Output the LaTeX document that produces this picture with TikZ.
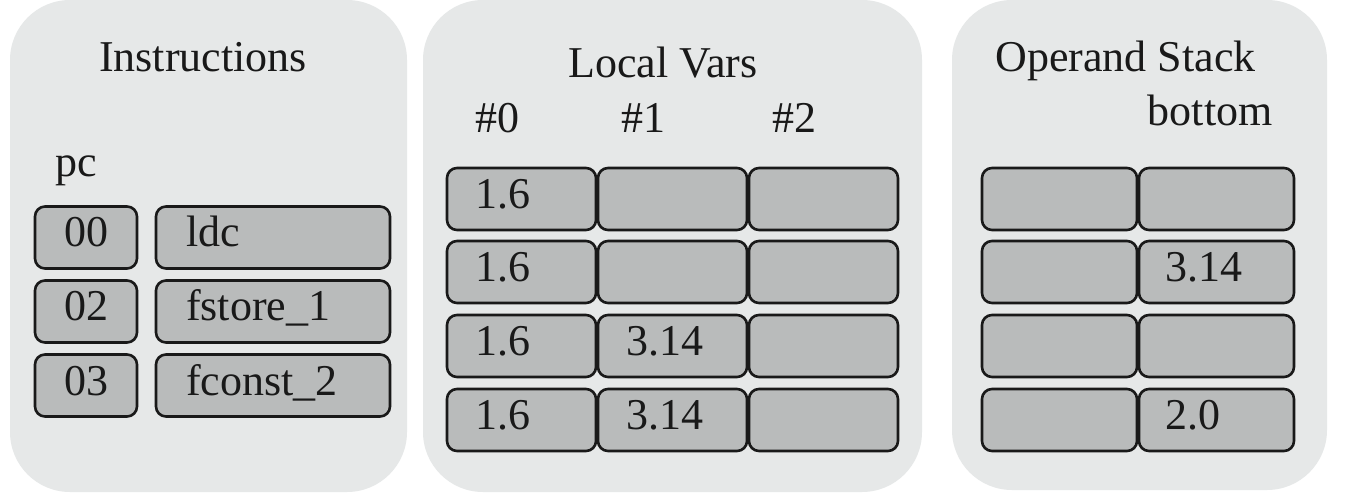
\documentclass[tikz,border=0pt]{standalone}
\usepackage{fontspec}
\setmainfont{Liberation Serif}
\definecolor{panelgray}{RGB}{230,232,232}
\definecolor{cellgray}{RGB}{185,187,187}
\definecolor{ink}{RGB}{25,25,25}
\begin{document}
\begin{tikzpicture}[x=0.5pt,y=-0.5pt,
  every node/.style={font=\fontsize{22pt}{26pt}\selectfont, text=ink},
  panel/.style={fill=panelgray, draw=none, rounded corners=30pt, inner sep=0pt},
  cell/.style={fill=cellgray, draw=black!90, line width=1.3pt, rounded corners=5pt,
    inner sep=0pt, minimum height=31pt, text height=1.05em, text depth=0.1em},
  lcell/.style={cell, inner xsep=14pt, align=left},
  title/.style={inner sep=0pt, anchor=base}
]
\fill[white] (0,0) rectangle (1345,502);
\useasboundingbox (0,0) rectangle (1345,502);

% panels
\node[panel, minimum width=198.5pt, minimum height=246pt] (p1) at (208.5,246) {};
\node[panel, minimum width=249.5pt, minimum height=246pt] (p2) at (672.5,246) {};
\node[panel, minimum width=187.5pt, minimum height=245pt] (p3) at (1139.5,245) {};

% Instructions
\node[title] (tinstr) at (203,72) {Instructions};
\node[title, anchor=base west] (tpc) at (55,177) {pc};
\node[cell, minimum width=51pt] (n00) at (86,237.5) {00};
\node[cell, minimum width=51pt] (n02) at (86,311.5) {02};
\node[cell, minimum width=51pt] (n03) at (86,385.5) {03};
\node[lcell, inner xsep=15pt, text width=87pt] (i00) at (273,237.5) {ldc};
\node[lcell, inner xsep=15pt, text width=87pt] (i02) at (273,311.5) {fstore\_1};
\node[lcell, inner xsep=15pt, text width=87pt] (i03) at (273,385.5) {fconst\_2};

% Local Vars
\node[title] (tlv) at (663,78) {Local Vars};
\node[title] (h0) at (497,133) {\#0};
\node[title] (h1) at (643,133) {\#1};
\node[title] (h2) at (794,133) {\#2};
\tikzset{lv/.style={lcell, text width=46.5pt}}
\node[lv] (a1) at (521.5,199) {1.6};
\node[lv] (b1) at (672.5,199) {};
\node[lv] (c1) at (823.5,199) {};
\node[lv] (a2) at (521.5,272) {1.6};
\node[lv] (b2) at (672.5,272) {};
\node[lv] (c2) at (823.5,272) {};
\node[lv] (a3) at (521.5,346) {1.6};
\node[lv] (b3) at (672.5,346) {3.14};
\node[lv] (c3) at (823.5,346) {};
\node[lv] (a4) at (521.5,420) {1.6};
\node[lv] (b4) at (672.5,420) {3.14};
\node[lv] (c4) at (823.5,420) {};

% Operand Stack
\node[title, anchor=base west] (tos) at (995,72) {Operand Stack};
\node[title, anchor=base east] (tbot) at (1273,126) {bottom};
\tikzset{os/.style={lcell, inner xsep=13pt, text width=51.5pt}}
\node[os] (s11) at (1059.5,199) {};
\node[os] (s12) at (1216.5,199) {};
\node[os] (s21) at (1059.5,272) {};
\node[os] (s22) at (1216.5,272) {3.14};
\node[os] (s31) at (1059.5,346) {};
\node[os] (s32) at (1216.5,346) {};
\node[os] (s41) at (1059.5,420) {};
\node[os] (s42) at (1216.5,420) {2.0};
\end{tikzpicture}
\end{document}
